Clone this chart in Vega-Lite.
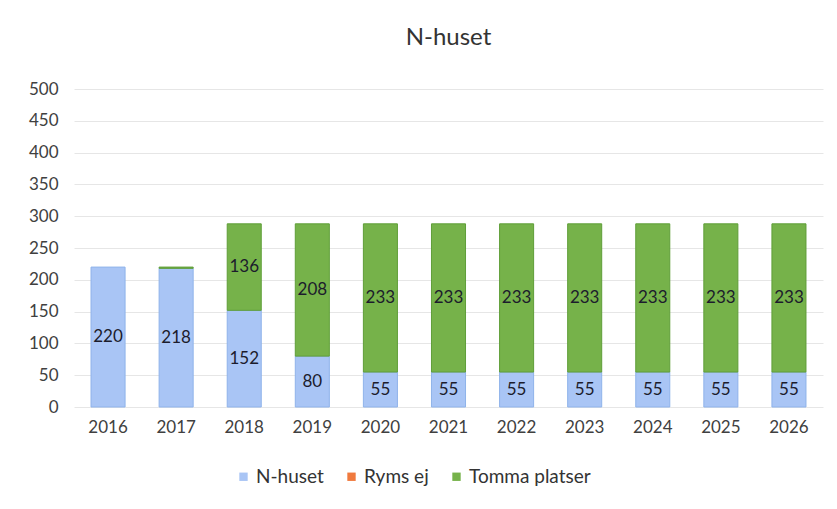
{
  "$schema": "https://vega.github.io/schema/vega-lite/v6.json",
  "width": 749,
  "height": 318,
  "autosize": {"type": "none"},
  "padding": {"left": 74, "top": 89, "right": 14, "bottom": 102},
  "background": "white",
  "title": {"text": "N-huset", "fontSize": 24, "font": "Lato", "fontWeight": "normal", "color": "#333333", "offset": 30, "anchor": "middle"},
  "data": {"values": [
    {"year": "2016", "series": "N-huset", "order": 1, "value": 220},
    {"year": "2016", "series": "Ryms ej", "order": 2, "value": 0},
    {"year": "2016", "series": "Tomma platser", "order": 3, "value": 0},
    {"year": "2017", "series": "N-huset", "order": 1, "value": 218},
    {"year": "2017", "series": "Ryms ej", "order": 2, "value": 0},
    {"year": "2017", "series": "Tomma platser", "order": 3, "value": 2},
    {"year": "2018", "series": "N-huset", "order": 1, "value": 152},
    {"year": "2018", "series": "Ryms ej", "order": 2, "value": 0},
    {"year": "2018", "series": "Tomma platser", "order": 3, "value": 136},
    {"year": "2019", "series": "N-huset", "order": 1, "value": 80},
    {"year": "2019", "series": "Ryms ej", "order": 2, "value": 0},
    {"year": "2019", "series": "Tomma platser", "order": 3, "value": 208},
    {"year": "2020", "series": "N-huset", "order": 1, "value": 55},
    {"year": "2020", "series": "Ryms ej", "order": 2, "value": 0},
    {"year": "2020", "series": "Tomma platser", "order": 3, "value": 233},
    {"year": "2021", "series": "N-huset", "order": 1, "value": 55},
    {"year": "2021", "series": "Ryms ej", "order": 2, "value": 0},
    {"year": "2021", "series": "Tomma platser", "order": 3, "value": 233},
    {"year": "2022", "series": "N-huset", "order": 1, "value": 55},
    {"year": "2022", "series": "Ryms ej", "order": 2, "value": 0},
    {"year": "2022", "series": "Tomma platser", "order": 3, "value": 233},
    {"year": "2023", "series": "N-huset", "order": 1, "value": 55},
    {"year": "2023", "series": "Ryms ej", "order": 2, "value": 0},
    {"year": "2023", "series": "Tomma platser", "order": 3, "value": 233},
    {"year": "2024", "series": "N-huset", "order": 1, "value": 55},
    {"year": "2024", "series": "Ryms ej", "order": 2, "value": 0},
    {"year": "2024", "series": "Tomma platser", "order": 3, "value": 233},
    {"year": "2025", "series": "N-huset", "order": 1, "value": 55},
    {"year": "2025", "series": "Ryms ej", "order": 2, "value": 0},
    {"year": "2025", "series": "Tomma platser", "order": 3, "value": 233},
    {"year": "2026", "series": "N-huset", "order": 1, "value": 55},
    {"year": "2026", "series": "Ryms ej", "order": 2, "value": 0},
    {"year": "2026", "series": "Tomma platser", "order": 3, "value": 233}
  ]},
  "transform": [
    {"stack": "value", "groupby": ["year"], "sort": [{"field": "order", "order": "ascending"}], "as": ["y0", "y1"]},
    {"calculate": "(datum.y0 + datum.y1) / 2", "as": "ymid"}
  ],
  "encoding": {
    "x": {"field": "year", "type": "nominal", "title": null, "scale": {"paddingInner": 0.5, "paddingOuter": 0.25},
      "axis": {"labelAngle": 0, "labelFont": "Lato", "labelFontSize": 17, "labelColor": "#404040", "ticks": false, "domain": false, "labelPadding": 12}}
  },
  "layer": [
    {
      "transform": [{"filter": "datum.value > 0"}],
      "mark": {"type": "bar", "strokeWidth": 1},
      "encoding": {
        "y": {"field": "y0", "type": "quantitative", "title": null, "scale": {"domain": [0, 500]},
          "axis": {"values": [0, 50, 100, 150, 200, 250, 300, 350, 400, 450, 500], "tickCount": 11, "labelOverlap": false, "labelFont": "Lato", "labelFontSize": 17, "labelColor": "#404040", "ticks": false, "domain": false, "gridColor": "#e6e6e6", "labelPadding": 16}},
        "y2": {"field": "y1"},
        "color": {"field": "series", "type": "nominal", "title": null,
          "scale": {"domain": ["N-huset", "Ryms ej", "Tomma platser"], "range": ["#a9c5f5", "#f07a3e", "#76b24a"]},
          "legend": {"orient": "none", "legendX": 160, "legendY": 378, "direction": "horizontal", "symbolType": "square", "symbolSize": 70, "labelFont": "Lato", "labelFontSize": 19, "labelColor": "#333333", "columnPadding": 18, "labelOffset": 3, "symbolStrokeWidth": 0}},
        "stroke": {"field": "series", "type": "nominal", "legend": null,
          "scale": {"domain": ["N-huset", "Ryms ej", "Tomma platser"], "range": ["#8fb3ea", "#e06a2e", "#5f9e38"]}}
      }
    },
    {
      "transform": [{"filter": "datum.value >= 10"}],
      "mark": {"type": "text", "font": "Lato", "fontSize": 17, "color": "#1c1c2c"},
      "encoding": {
        "y": {"field": "ymid", "type": "quantitative", "title": null, "scale": {"domain": [0, 500]},
          "axis": {"values": [0, 50, 100, 150, 200, 250, 300, 350, 400, 450, 500], "tickCount": 11, "labelOverlap": false, "labelFont": "Lato", "labelFontSize": 17, "labelColor": "#404040", "ticks": false, "domain": false, "gridColor": "#e6e6e6", "labelPadding": 16}},
        "text": {"field": "value", "type": "quantitative"}
      }
    }
  ],
  "config": {"view": {"stroke": null}}
}
